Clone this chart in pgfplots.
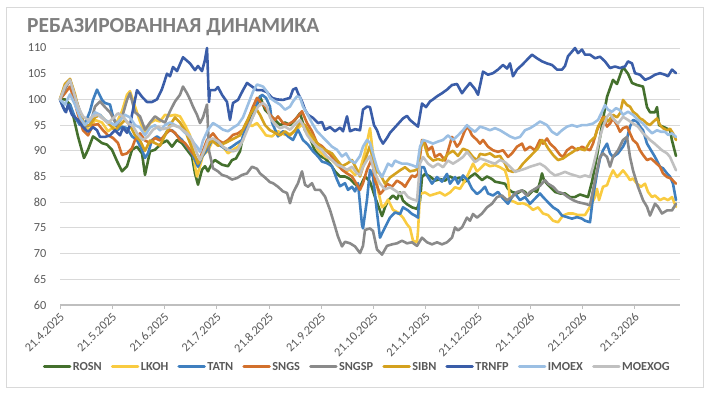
\documentclass[border=0pt]{standalone}
\usepackage{fontspec}
\setmainfont{Carlito}
\usepackage{pgfplots}
\pgfplotsset{compat=1.18}
\definecolor{cROSN}{HTML}{44702D}
\definecolor{cLKOH}{HTML}{F9CB40}
\definecolor{cTATN}{HTML}{3F7FBF}
\definecolor{cSNGS}{HTML}{D2702C}
\definecolor{cSNGSP}{HTML}{8A8A8A}
\definecolor{cSIBN}{HTML}{D4A11E}
\definecolor{cTRNFP}{HTML}{3A5DA8}
\definecolor{cIMOEX}{HTML}{9BBFE3}
\definecolor{cMOEXOG}{HTML}{C0C0C0}
\definecolor{titlegray}{HTML}{7F7F7F}
\definecolor{labelgray}{HTML}{595959}
\definecolor{gridgray}{HTML}{D9D9D9}
\definecolor{axisgray}{HTML}{BFBFBF}
\definecolor{framegray}{HTML}{D9D9D9}
\begin{document}
\begin{tikzpicture}
\useasboundingbox (0pt,0pt) rectangle (711pt,395pt);
\draw[framegray, line width=0.8pt] (6pt,8pt) rectangle (703pt,388pt);
\node[anchor=base west, inner sep=0pt, text=titlegray, font=\fontsize{21.5}{25}\selectfont\bfseries] at (27pt,362pt) {РЕБАЗИРОВАННАЯ ДИНАМИКА};
\begin{axis}[
  at={(60pt,90pt)}, anchor=south west,
  width=620pt, height=257pt, scale only axis,
  xmin=0, xmax=248, ymin=60, ymax=110,
  ytick={60,65,...,110},
  xtick={0,20.9,41.8,62.7,83.6,104.5,125.4,146.3,167.2,188.1,209,229.9},
  xticklabels={21.4.2025,21.5.2025,21.6.2025,21.7.2025,21.8.2025,21.9.2025,21.10.2025,21.11.2025,21.12.2025,21.1.2026,21.2.2026,21.3.2026},
  axis x line*=bottom, axis y line*=left,
  x axis line style={draw=axisgray, line width=1.5pt},
  y axis line style={draw=none},
  ymajorgrids, grid style={draw=gridgray, line width=0.9pt},
  xtick style={draw=axisgray, line width=1pt},
  ytick style={draw=none},
  tick align=outside, major tick length=4pt,
  ticklabel style={font=\fontsize{12.3}{14}\selectfont, text=labelgray},
  xticklabel style={xshift=3pt, yshift=-5pt, rotate=45, anchor=east, inner sep=1pt},
  yticklabel style={xshift=-6pt},
  /pgf/number format/assume math mode=true,
  clip=false,
  legend style={at={(0.479,-0.241)}, anchor=center, draw=none, fill=none,
    legend columns=-1, font=\fontsize{12.3}{14}\selectfont\bfseries, text=labelgray,
    nodes={inner sep=1.5pt},
    /tikz/every even column/.append style={column sep=7.6pt}, inner sep=0pt},
  legend image code/.code={\draw[#1, line width=3pt] (0pt,0pt) -- (25.5pt,0pt);},
  every axis plot/.append style={line width=2.6pt, line join=round, line cap=round, mark=none},
]
\addplot[color=cROSN] coordinates {(0,100)(2,100)(4,99)(5.2,97)(7.2,92.8)(9.6,88.6)(11.2,90.2)(13.2,92.8)(15.2,92.1)(16.8,91.5)(18.8,91.2)(20.8,90.2)(22.8,88)(24.8,86)(26.8,87)(28.8,90.2)(30.8,90.8)(32.8,89.5)(34,85.3)(36,89.9)(38,90.2)(40.8,91.5)(42.8,92)(44.8,90.8)(46.8,92.1)(48.8,91.5)(50.8,90.2)(52.8,88.9)(54,85.6)(55.2,83.4)(56.8,86.3)(58,87)(59.2,86)(60.8,87.6)(62,88.2)(64.8,87.3)(67.2,87)(68.8,88.2)(70.4,88.5)(72,89.9)(73.2,92.8)(74.8,95.4)(76.8,96.7)(78.8,99)(80,100.6)(82,98)(84,97)(86,96)(88,95)(90,95.5)(92,95)(94,96)(96,97.3)(98,94)(100,92.5)(102,90)(104,89)(106,88.5)(108,87.5)(110,86)(112,85)(114,85)(116,84.5)(118,83.5)(120,83)(122,85)(124,84)(126,81)(128.8,77.3)(130,79)(131.2,80.3)(133.2,81.3)(134.8,80.6)(136,81.9)(137.2,80.3)(138.8,79.6)(140.8,79)(142.8,78.7)(144,80.3)(144.8,84.9)(146,85.5)(148,85)(150,84.2)(152,84.5)(154,84.2)(156,85)(158,84.5)(160,84.8)(162,84)(164,84.9)(166,85.6)(168.8,84.3)(170.8,85)(172.8,84.5)(174,84)(176,83.8)(178,83.6)(179.2,82.6)(180.8,82)(182.8,81.7)(184.8,82.3)(186,82)(187.2,81.3)(189.2,82.3)(190.8,82)(192,83.9)(192.8,85.6)(193.6,84.3)(194.8,83.6)(196,83)(198,82)(200,81.7)(202,81.7)(204,81)(206,81)(208,81.5)(211.2,81)(212.8,84)(214.8,89)(216.8,95)(218.8,100.5)(221.2,103.8)(222.8,103)(225.2,106.3)(227.2,105)(228.8,103.2)(230.8,102.8)(233.2,102.5)(234.8,98.5)(236,97.5)(238,97.5)(238.8,98.5)(239.6,95)(242,94.5)(244,94)(244.8,92)(246.4,89)};
\addlegendentry{ROSN}
\addplot[color=cLKOH] coordinates {(0,100)(2,102.9)(4,103.8)(5.2,102)(7.2,97.7)(10,94.7)(12,94.1)(14,96)(16.8,95.5)(19.2,93.8)(22,94.8)(24.8,97.7)(26.8,100.9)(28,101.6)(30,98.6)(32,95.7)(34,93.4)(36,95.4)(38,96)(40,95.7)(42,97)(44,96.8)(46,97)(48,96.7)(50,95)(52,93)(53.2,90)(54,87)(54.8,85)(56,87)(57.2,89.2)(59.2,90)(61.2,92.1)(63.2,91.5)(65.2,90.8)(67.2,89.5)(69.2,90.2)(71.2,90.8)(73.2,92.1)(74.8,95.4)(76.8,94.8)(78.8,95.4)(80.8,94.1)(82.4,93)(84.8,92.8)(87.2,93.8)(90,93.1)(92.8,93.4)(95.2,94.4)(96.8,95.1)(98.8,93.8)(100.8,92.1)(103.2,90.2)(106,88.9)(108.8,88.2)(111.2,87)(114,86)(116,86.3)(118,85.3)(120,86.3)(122,89.8)(124,94.4)(125.2,89.4)(127.2,82.3)(128.8,79)(130,79.5)(131.2,80.5)(133.2,78.5)(135.2,78)(137.2,77)(138.8,75.7)(140,75)(141.2,72.5)(142.8,72.2)(143.2,74.4)(144,81.6)(146,81.9)(148,81.3)(150,81.6)(152,81.9)(154,81.3)(156,81.9)(158,82.9)(160,82.6)(162,84.2)(164,86.2)(165.2,87.5)(166.8,86)(168,86.5)(170,87.5)(172,87)(174,87.2)(176,86.8)(178,86.2)(179.2,84.3)(180,80.4)(182,80)(183.2,79.7)(185.2,79.8)(187.2,79.4)(189.2,78.5)(191.2,79)(193.2,77.8)(195.2,77.5)(197.2,76.4)(199.2,76.1)(201.2,77.4)(203.2,77.8)(205.2,77.8)(207.2,77.5)(210,77.5)(212,79.1)(214,81)(214.8,82.6)(215.6,80.4)(217.2,83)(218.8,83.3)(220,84.9)(221.2,86.2)(222.8,84.9)(224,85.5)(225.2,86.2)(226.8,85.2)(228,84.3)(229.2,84.6)(230.8,83.6)(232.4,83)(234,83.6)(235.2,82)(236.8,81)(238,81.3)(240,80.4)(241.6,80.8)(243.2,80.4)(244.8,81)(246.4,79.1)};
\addlegendentry{LKOH}
\addplot[color=cTATN] coordinates {(0,100)(2,97.7)(4,99)(6,96.5)(8,95)(10,95.3)(12,97.7)(13.2,99.9)(14.8,101.9)(16.8,99.9)(18,99.3)(20,99)(21.2,96.7)(23.2,94.1)(24.8,94.7)(26.8,94.4)(28.8,92.8)(30.8,92.1)(32.8,90.2)(34,88.6)(35.2,89.5)(36.8,92.1)(38.8,92.8)(40.8,92.1)(42.8,93.8)(44.8,94)(46.8,93)(48.8,92.1)(50.8,90.8)(52.8,89.5)(54,88.2)(55.2,86.9)(56.8,88.8)(58.8,90.2)(60.8,92.1)(62.8,91.5)(64.8,90.8)(66.8,90.2)(68.8,90.8)(70.8,91.5)(72.8,92.1)(74,94.1)(76,95.4)(78,97.7)(79.2,99.9)(80.8,100.9)(82.4,100.3)(84,98.6)(84.8,95.5)(87.2,92.8)(89.2,93.8)(91.2,92.8)(93.2,92.1)(95.2,94.1)(97.2,92.1)(99.2,91.2)(101.2,89.9)(103.2,88.9)(104.8,87.9)(106.8,87.6)(108.8,87)(110.8,84.4)(112,83.1)(114,83.7)(115.2,82.4)(116.8,83)(118,82.1)(119.2,83.7)(120.8,75.6)(121.2,74.9)(122.8,80.5)(124,86.3)(125.2,85)(126.8,78)(128,73.1)(130,75.1)(132,77)(134,78)(136,77.7)(137.2,79)(139.2,78.4)(140.8,77.7)(142,77.4)(143.2,77)(144.4,86.8)(145.6,86.8)(146.8,85.2)(148.8,83.6)(150.8,84.9)(152.8,84)(154.8,85.5)(156,83.6)(158,84.9)(159.2,83.6)(161.2,85.2)(163.2,84.2)(164.8,82.6)(166.8,81.6)(168,82)(170,83)(171.2,81.7)(173.2,81.3)(175.2,82)(177.2,80.7)(179.2,79.7)(180.8,81)(182,81.7)(184,80.4)(186,81)(188,79.7)(190,80.7)(192,81.7)(193.2,81)(195.2,80)(197.2,79)(199.2,78.4)(200.8,77.4)(202.8,77.1)(204.8,76.8)(206.8,77.1)(208.8,76.8)(210,76.4)(212,76.1)(213.2,81)(214.8,85.6)(216,88.5)(217.2,90.1)(218.8,91.4)(220,89.5)(221.2,88.8)(223.2,89.5)(225.2,90.8)(226.8,92.4)(228,94.7)(229.2,96)(230.8,95.7)(232,94.7)(233.2,94)(234.8,91.4)(236.4,90.1)(238,88.8)(240,86.9)(241.2,86.6)(242.8,85.6)(244,85)(245.2,83.6)(246.4,80.4)};
\addlegendentry{TATN}
\addplot[color=cSNGS] coordinates {(0,100)(2,101.2)(4,102.5)(5.6,100)(7.2,97)(9.2,94)(11.2,93)(13.2,95)(15.2,95.2)(17.2,94)(19.2,93)(21.2,92.5)(23.2,91.5)(24.8,89.2)(26.8,89.5)(28.8,90.5)(30,92.1)(32,93.4)(34,92)(36,91.5)(38,92.5)(40,92)(42,93.1)(44,94.1)(46,93.5)(48,92.1)(50,91.5)(52,90.2)(54,88.9)(55.2,87.9)(56.8,89.5)(58.8,92.1)(61.2,93.4)(63.2,92.1)(65.2,91.5)(67.2,92.1)(69.2,93.1)(71.2,93.4)(73.2,94.1)(75.2,96)(77.2,98.6)(78.8,100.3)(80.4,99.3)(82,98.6)(84,97)(86,96)(87.2,96.7)(89.2,95.4)(91.2,95.1)(93.2,95.7)(95.2,96.7)(96.8,97.7)(98.8,95.4)(100.8,93.8)(102.8,91.5)(104.8,90.9)(106.8,89.9)(108.8,88.9)(110.8,87.6)(112.8,86.3)(114.8,85.6)(116.8,85)(118.8,83.4)(120,82.4)(121.2,83.7)(122.8,86.3)(124.8,88.5)(126,84.2)(128,81.6)(129.2,82.2)(130.8,83.6)(132.8,83)(134.8,84.2)(136.8,83.6)(138,83)(139.2,84)(140.8,85.2)(142,84.9)(143.2,85.5)(144.8,92.1)(146,91.5)(147.2,90.1)(148.8,90.8)(150,88.8)(152,89.4)(154,88.1)(155.2,90)(156.8,92.7)(158.8,90.8)(160,91.5)(162,94)(163.2,94.7)(164.8,93)(166.8,92.1)(168,91.4)(169.2,92.1)(171.2,90.8)(173.2,90.1)(175.2,89.8)(177.2,90.1)(179.2,88.8)(180.8,89.5)(182.8,90.8)(184.8,91.4)(186,90.1)(188,90.8)(190,90.1)(192,92.1)(193.2,91.4)(194.8,92.4)(196,91.4)(198,90.5)(200,89.2)(201.2,88.8)(202.8,90.1)(204.8,90.8)(206.8,90.1)(208.8,90.8)(210,90.5)(212,90.1)(213.2,91.4)(214.8,94)(216,95.3)(217.2,96.6)(218.8,94.7)(220,95.3)(221.2,96.3)(222.8,95)(224,93.7)(225.2,94.4)(226.8,94.7)(228,93.4)(229.2,92.1)(230.8,91.4)(232,90.1)(233.2,89.2)(234.8,88.2)(236.4,88.5)(238,87.8)(240,86.9)(241.2,85.6)(242.8,84.9)(244.4,84.6)(246.4,83.6)};
\addlegendentry{SNGS}
\addplot[color=cSNGSP] coordinates {(0,100)(2,102)(4,103.8)(6,100.5)(8,97.7)(10,94.7)(12,95)(14,98.6)(16,99.6)(18,98.5)(20,97.5)(22.8,95)(24.8,96.5)(26.8,99.9)(28,101.2)(30,97.5)(32,96.7)(34,94.1)(36,95.5)(38,96.7)(40,96)(42,95.5)(44,97.7)(46,99.6)(48,100.9)(49.2,102.5)(50.8,101.2)(52,100)(53.2,98.6)(54.8,97)(56,95.4)(57.2,96.5)(58.8,99)(59.6,90)(61.2,86.6)(63.2,86)(64.8,85.3)(66.8,85)(68.8,84.4)(70.8,84.7)(72.8,85.3)(74.8,85.6)(76.8,86.9)(78.8,86.5)(80,85.6)(82,84.8)(84,83.9)(85.2,83.7)(87.2,83)(89.2,82.1)(90.8,81.8)(92,79.8)(93.2,81.8)(95.2,83.7)(96.8,86)(98,83.4)(99.2,83)(100.8,83.7)(102,82.4)(104,82.4)(106,81.1)(108,78.5)(110,75.3)(111.2,73.3)(112.8,71.4)(114,72.3)(116,72)(118,71.4)(120,70.1)(121.2,71.5)(122,74.6)(124,74.9)(125.2,74.4)(126.8,70.8)(128.8,69.8)(130.8,71.5)(132.8,71.8)(134.8,72)(136.8,72.5)(138.8,72)(140.8,72.2)(142.8,71.5)(144.8,73.1)(146.8,72.2)(148.8,71.8)(150.8,72.2)(152.8,71.8)(154.8,72.2)(156.8,73.1)(158,75.1)(159.2,74.5)(160.8,75.1)(162.8,77)(164,76.4)(165.2,77.7)(166.8,77)(168.8,77.8)(170.8,79)(172.8,79.7)(174.8,81)(176.8,81.3)(178.8,80.4)(180.8,81)(182.8,82)(184.8,82.3)(186.8,81.3)(188,82)(190,82.6)(192,83.2)(194,84.3)(195.2,83.6)(197.2,83)(199.2,82)(201.2,81.7)(203.2,81)(205.2,80.4)(207.2,80)(210,79.7)(212,79.4)(214,84.3)(216,88.8)(217.2,89.5)(218.8,88.8)(220,86.9)(221.2,88.8)(223.2,90.1)(225.2,92.1)(226.8,92.7)(228,88.8)(229.2,86.2)(231.2,83)(233.2,80.4)(234.8,79.1)(236,77.4)(238,79.7)(239.2,79.1)(240.8,77.8)(242.8,78.4)(244.8,78.4)(246.4,79.7)};
\addlegendentry{SNGSP}
\addplot[color=cSIBN] coordinates {(0,100)(2,103)(4,104)(6,101)(8,97)(10,95)(12,95)(14,96.5)(16,97)(18,96)(20,95)(22,94)(24,95)(26,96)(28,95)(30,93)(32,92)(34,90)(36,92)(38,91.5)(40,91)(42,93)(44,95)(46,96.5)(48,95.5)(50,94)(52,91.5)(54,89)(55.2,87.5)(56.8,89)(58.8,91)(60.8,92)(63.2,91)(66,91.5)(68,92)(70,92.5)(72,93)(74,95)(76,97)(78,98.5)(80,97)(82,95)(84,94)(86,93.5)(88,93)(90,93.8)(92,93)(94,94)(96,95.5)(98,95)(100,93.5)(102,92.1)(104,90.8)(106,90.2)(108.8,89.5)(110.8,88.2)(112.8,87)(114.8,87.5)(116.8,88.2)(118.8,86.3)(120,85)(122,88.2)(124,91)(125.2,88)(126.8,86)(128,85.5)(130,83.6)(132,84.8)(134,85.5)(136,86.2)(138,86.8)(140,86)(142,86.2)(143.2,86.5)(144,90.1)(145.2,92.1)(147.2,89)(149.2,88.1)(151.2,88.4)(153.2,88.1)(155.2,89.4)(157.2,90)(159.2,89)(161.2,90.4)(163.2,90)(165.2,88.8)(166.8,88.1)(168,89.4)(170,89.2)(172,89.5)(174,88.8)(176,89)(178,87.5)(179.2,86.2)(181.2,85.9)(183.2,86.2)(185.2,87.5)(187.2,88.5)(189.2,89.5)(191.2,90.5)(192.8,92.1)(194,91.5)(195.2,90.5)(197.2,89.2)(199.2,88.2)(201.2,88.5)(203.2,89.2)(205.2,89.8)(207.2,90.5)(210,90.1)(212,91.8)(214,92.7)(215.2,94.7)(216.8,96)(218,96.6)(219.2,95.7)(221.2,97)(222.8,96.5)(224,97.3)(225.2,99.9)(226.8,98.9)(228,98.6)(229.2,97.6)(230.8,97)(232,96.3)(233.2,96)(234.8,95.3)(236,95)(237.2,95.6)(238.8,96.3)(240,95)(241.2,94.4)(242.8,94)(244,94.3)(245.2,93.4)(246.4,92.1)};
\addlegendentry{SIBN}
\addplot[color=cTRNFP] coordinates {(0,100)(1.2,98.5)(2.4,97.5)(3.2,99)(4.8,97)(7.2,96)(9.2,94.6)(11.2,93.7)(13.2,94.6)(14.8,94)(16,92.7)(18,92.7)(20,93)(22,94)(24,93)(25.2,94.5)(26.8,93.5)(28,95)(29.6,99)(30.8,101.8)(32.8,100.5)(34.8,99.5)(36.8,99.5)(38.8,100)(40.8,102)(42,103.8)(42.8,105)(44,104.5)(45.2,106.3)(46.8,105.5)(49.2,108.2)(52,107)(54,105.7)(55.2,106.5)(56.8,105.5)(58,107.7)(58.8,110)(59.6,99.5)(60,101.8)(62,101.8)(63.2,102.4)(64.8,100.9)(66.8,99.5)(68,96)(69.2,99.3)(71.2,99.9)(73.2,101.8)(74.8,103.2)(76.8,102.5)(78.8,101.8)(80.8,101.8)(82.8,101.4)(84.8,100.3)(86.8,100)(89.2,99.9)(92,100.3)(93.2,101.9)(94.4,102.2)(95.2,101.2)(96.8,99.6)(98,98)(99.2,97)(101.2,96.4)(103.2,95.4)(104.8,95.6)(106,94.1)(108,94.6)(110,93.8)(112,94.5)(113.2,93.8)(114.8,96.7)(116,93.8)(118,94.2)(120,94)(121.2,98)(122.8,98.6)(124,98.5)(125.6,95)(126.8,94)(128,92.4)(129.2,91.4)(130.8,92.5)(132,93.5)(134.8,95)(137.2,96.3)(138.8,96.8)(140,96)(141.2,95.5)(143.2,94.7)(144.8,99.2)(146.4,98.5)(148,99.6)(149.2,100)(150.8,100.6)(152.8,101.2)(154.8,101.9)(156.8,102.8)(158.8,103)(160.8,101.2)(162,102)(164,103.2)(166,102)(167.2,100.9)(169.2,105.4)(171.2,104.8)(173.2,105.1)(175.2,105.8)(177.2,106.7)(178.8,106)(180,107)(181.2,104.5)(182.8,105.8)(184.8,106.7)(186.8,107.7)(188.8,108.7)(190.8,108)(192.8,107.4)(194.8,107)(196.8,106.7)(198.8,105.8)(200.8,105.8)(202,106.5)(203.2,108.4)(204.8,109.3)(206,110)(207.2,109)(208.8,109.7)(210,108.7)(212,108.7)(214,108)(216,108.3)(218,107.4)(220,106.1)(222,106.4)(224,106.1)(226,106.4)(227.2,107.4)(228.8,107)(230,105.1)(232,104.8)(234,103.8)(236,104.2)(238,104.8)(240,105.1)(242,104.8)(243.2,104.5)(244.8,105.8)(246.4,105.1)};
\addlegendentry{TRNFP}
\addplot[color=cIMOEX] coordinates {(0,100)(2,99)(4,101)(6,99)(8,96.5)(10,95)(12,96)(14,97.5)(16,97)(18,96)(20,95.5)(22,95)(24,96)(26,97)(28,96.5)(30,95)(32,94.5)(34,93)(36,94.5)(38,95)(40,94)(42,95)(44,95.5)(46,95)(48,94.5)(50,93.5)(52,92.8)(53.6,91.5)(54.8,90.8)(56,89.8)(57.2,92)(59.2,94.1)(61.2,95.4)(63.2,94.8)(65.2,94.1)(67.2,93.8)(69.2,94.5)(71.2,95.1)(73.2,96.5)(75.2,99)(77.2,101.5)(78.8,102.9)(81.2,102.5)(82.8,101.5)(84,100.3)(86,99.6)(88,99)(90,98)(92,98.6)(93.2,99.6)(94.8,100.6)(96,100.4)(97.2,98.6)(98.8,97.3)(100.8,95.4)(102.8,93.8)(104.8,92.8)(106.8,91.8)(108.8,90.8)(110.8,90.2)(112.8,88.9)(114.4,89.5)(116,88.2)(118,87.6)(120,89)(121.2,90.8)(122.8,92.1)(124,91.5)(126,88.1)(127.2,86.2)(128.8,84.9)(130,86.2)(131.2,87.5)(132.8,87)(134,88.1)(135.2,87.8)(136.8,87.5)(138.8,87.5)(140.8,87.2)(142.8,86.8)(144,90.8)(145.2,92.1)(147.2,91.8)(149.2,91.4)(151.2,91.8)(153.2,92.1)(155.2,93)(157.2,92.1)(159.2,93)(161.2,94)(162.8,95)(164,94.4)(166,93.7)(168,94.7)(170,94.4)(172,94)(174,94.4)(176,94)(178,93.4)(180,92.8)(182,92.4)(184,92.7)(186,94)(188,94.4)(190,95)(192,95.7)(193.2,95.4)(194.8,95)(196.8,93.7)(198.8,93.1)(200.8,94)(202.8,94.7)(204.8,95)(206.8,94.7)(208.8,95)(210.8,95)(213.2,95.3)(215.2,96)(216.8,97.6)(218,98.9)(219.2,98)(220.8,97.6)(222.4,98.3)(224,97.9)(225.2,97)(227.2,97.6)(229.2,97)(231.2,96)(233.2,95.3)(234.8,94.4)(236.8,93.4)(238.8,94)(240.4,93.7)(242,93.7)(243.2,93.1)(244.8,93.4)(246.4,92.7)};
\addlegendentry{IMOEX}
\addplot[color=cMOEXOG] coordinates {(0,100)(2,102.5)(4,103.8)(5.2,101.9)(7.2,98.6)(9.2,96.7)(11.2,96)(13.2,96.7)(15.2,97)(17.2,96.2)(19.2,95.4)(21.2,96.3)(23.2,97.3)(25.2,96.7)(27.2,95.4)(29.2,94.8)(31.2,93.1)(33.2,92.1)(35.2,92.8)(37.2,94.1)(39.2,94.7)(41.2,94.2)(43.2,94.5)(45.2,95)(48,94.5)(50.8,93.4)(52.8,92.1)(54.8,89.5)(56,88.2)(57.6,90)(59.2,92.1)(61.2,92.4)(63.2,91.8)(65.2,90.8)(67.2,90.2)(69.2,89.9)(71.2,90.2)(73.2,92.1)(75.2,94.4)(77.2,96.7)(79.2,98.6)(81.2,99.3)(82.8,98.6)(84,96.5)(86,95.1)(88,94.4)(90,94.7)(92,94.1)(94,95.1)(96,96)(97.2,95)(98.8,93.1)(100.8,91.8)(102.8,90.8)(104.8,90.2)(106.8,88.9)(108.8,88.2)(110.8,87.3)(112.8,86.9)(114.8,86.3)(116.8,86.9)(118.8,85.6)(120,85.3)(121.2,86.9)(122.8,88.2)(124,89)(126,85.5)(128,83.6)(130,82.5)(132,82.9)(134,82.3)(136,81.6)(137.6,82)(139.2,81)(140.8,80.6)(142.8,80.3)(144,87.5)(145.2,88.8)(147.2,87.5)(149.2,86.8)(151.2,87.5)(153.2,86.8)(155.2,88.1)(157.2,87.5)(159.2,88.1)(161.2,88.8)(162.8,89.8)(164.4,88.8)(166,87.8)(168,88.5)(170,88.2)(172,87.8)(174,87.5)(176,88.2)(178,87.8)(180,86.9)(182,85.9)(184,86.2)(186,86.5)(188,86.9)(190,87.2)(192,87.5)(194,86.9)(196,85.9)(198,85.2)(200,85.5)(202,85.9)(204,85.5)(206,85.2)(208,84.9)(210,85.2)(212,84.9)(213.2,86.9)(214.8,90.1)(216,92.7)(217.2,94.7)(218.8,96.6)(220,97.3)(221.2,96.3)(223.2,95.3)(225.2,96.6)(227.2,96)(229.2,95.3)(231.2,94.7)(233.2,93.4)(234.8,92.7)(236,92.1)(237.6,91.5)(239.2,90.8)(240.8,90.1)(242.8,89.5)(244,88.8)(245.2,87.5)(246.4,86.2)};
\addlegendentry{MOEXOG}
\end{axis}
\end{tikzpicture}
\end{document}
